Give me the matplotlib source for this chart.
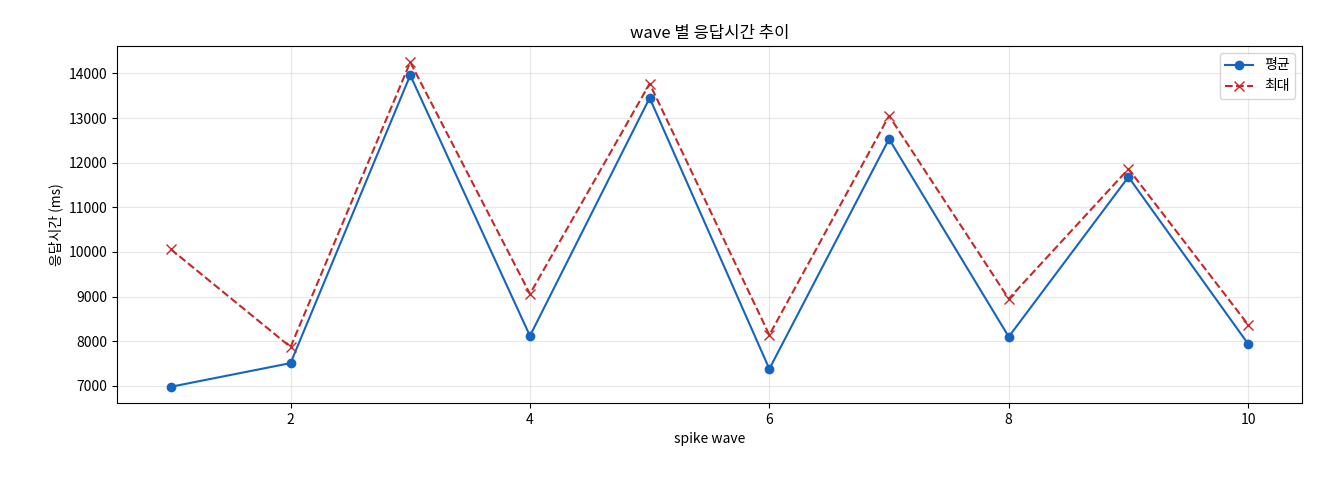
import matplotlib
matplotlib.use("Agg")
import matplotlib.pyplot as plt

plt.rcParams['font.family'] = ['Noto Sans CJK KR', 'DejaVu Sans']

waves = [1, 2, 3, 4, 5, 6, 7, 8, 9, 10]
avg_ms = [6980, 7510, 13960, 8120, 13450, 7380, 12530, 8100, 11680, 7940]
max_ms = [10060, 7870, 14250, 9060, 13770, 8140, 13050, 8950, 11860, 8370]

fig = plt.figure(figsize=(13.2, 4.8), dpi=100)
ax = fig.add_axes([117/1320, 1-403/480, (1302-117)/1320, (403-46)/480])
ax.plot(waves, avg_ms, '-o', color='#1565c0', markersize=6, label='평균')
ax.plot(waves, max_ms, '--x', color='#c62828', markersize=7, label='최대')
ax.set_title('wave 별 응답시간 추이', fontsize=12)
ax.set_xlabel('spike wave', fontsize=10)
ax.set_ylabel('응답시간 (ms)', fontsize=10)
ax.grid(True, alpha=0.3)
ax.legend(loc='upper right', fontsize=10)
fig.savefig('out.png', dpi=100)
